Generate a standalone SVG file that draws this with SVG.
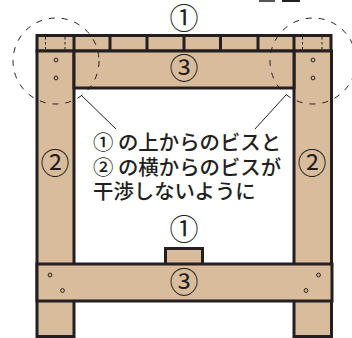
<svg xmlns="http://www.w3.org/2000/svg" width="352" height="338" viewBox="0 0 352 338">
<style>
.w{fill:#d9bc9c;stroke:#231f20;stroke-width:3}
.s{fill:none;stroke:#231f20;stroke-width:1}
.d{fill:none;stroke:#231f20;stroke-width:1;stroke-dasharray:6 7}
.dd{fill:none;stroke:#231f20;stroke-width:1;stroke-dasharray:2.5 2.5}
.l{fill:none;stroke:#231f20;stroke-width:1}
text{font-family:"Noto Sans CJK JP","Liberation Sans",sans-serif;fill:#231f20}
.n{font-size:29px;text-anchor:middle}
.t{font-size:20.4px;font-weight:500}
</style>
<rect x="259" y="0" width="16" height="2" fill="#555"/>
<rect x="282" y="0" width="18" height="2" fill="#231f20"/>
<g id="top-board">
<rect class="w" x="37" y="35.500" width="294" height="15.500"/>
<path class="l" style="stroke-width:3" d="M74 35.500V51M110 35.500V51M147 35.500V51M184 35.500V51M220.500 35.500V51M258 35.500V51M294 35.500V51"/>
<path class="dd" d="M45.500 37V51M65 37V51M302.500 37V51M322 37V51"/>
</g>
<g id="left-leg"><rect class="w" x="37" y="51" width="37" height="285.500"/>
<circle class="s" cx="56" cy="60" r="1.900"/><circle class="s" cx="56" cy="78" r="1.900"/></g>
<g id="right-leg"><rect class="w" x="294" y="51" width="37.500" height="285.500"/>
<circle class="s" cx="313" cy="60" r="1.900"/><circle class="s" cx="313" cy="78" r="1.900"/></g>
<g id="upper-rail"><rect class="w" x="74" y="51" width="220" height="37"/></g>
<g id="small-block"><rect class="w" x="165.500" y="248.500" width="37" height="16"/></g>
<g id="lower-rail"><rect class="w" x="37" y="264" width="295" height="37"/>
<circle class="s" cx="50" cy="275" r="1.900"/><circle class="s" cx="62.500" cy="290.500" r="1.900"/>
<circle class="s" cx="318.500" cy="275" r="1.900"/><circle class="s" cx="306" cy="290.500" r="1.900"/></g>
<g id="connectors">
<circle class="d" cx="56" cy="61" r="43"/>
<circle class="d" cx="313" cy="61" r="43"/>
<path class="l" d="M81 95L116 129M286 95L255 129"/>
</g>
<g id="labels">
<text class="n" x="184" y="29">①</text>
<text class="n" x="184" y="79">③</text>
<text class="n" x="55" y="174">②</text>
<text class="n" x="312" y="174">②</text>
<text class="n" x="184" y="240">①</text>
<text class="n" x="184" y="293">③</text>
<text class="t" x="93" y="150">① の上からのビスと</text>
<text class="t" x="93" y="175">② の横からのビスが</text>
<text class="t" x="93" y="199">干渉しないように</text>
</g>
</svg>
